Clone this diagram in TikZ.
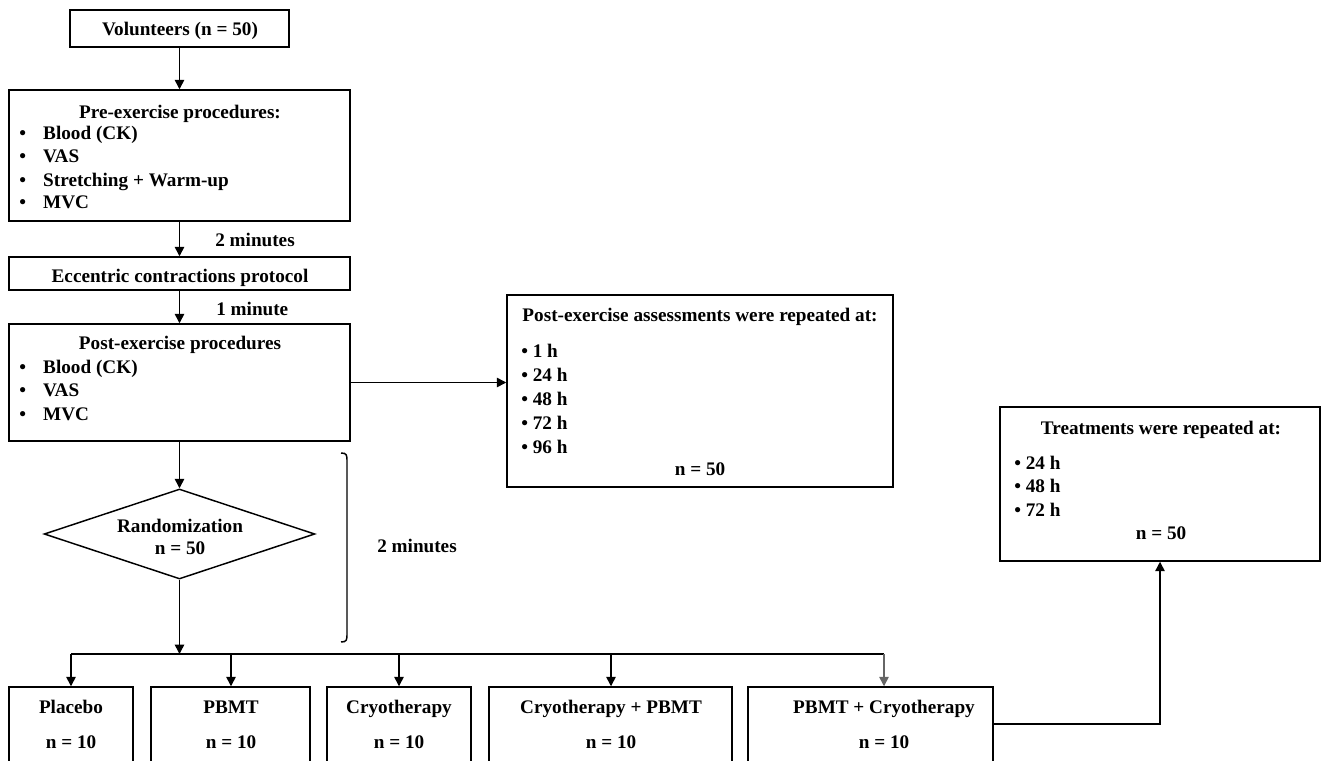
\documentclass[tikz,border=0pt]{standalone}
\usepackage{fontspec}
\setmainfont{Liberation Serif}
\usetikzlibrary{arrows.meta,shapes.geometric,fit}
\begin{document}
\begin{tikzpicture}[x=0.75pt,y=-0.75pt,
  font=\fontsize{14.4}{17}\selectfont\bfseries,
  box/.style={draw, line width=1.1pt, inner sep=0pt, fit={#1}},
  ln/.style={line width=1.1pt},
  arr/.style={line width=1.1pt, -{Triangle[length=7pt,width=7pt]}},
  garr/.style={arr, draw=black!60, -{Triangle[length=7pt,width=7pt,fill=black!60]}},
  lt/.style={inner sep=0pt, anchor=base west},
  ct/.style={inner sep=0pt, anchor=base}]
\useasboundingbox (0,0) rectangle (1323,760);
\clip (0,0) rectangle (1323,760);

% boxes
\node[box={(70,10) (289,47)}] (vol) {};
\node[box={(9,90) (350,221)}] (pre) {};
\node[box={(9,257) (350,290)}] (ecc) {};
\node[box={(9,324) (350,441)}] (post) {};
\node[box={(507,295) (893,487)}] (assess) {};
\node[box={(1000,407) (1320,561)}] (treat) {};
\node[draw, line width=1.1pt, shape=diamond, aspect=3, inner sep=0pt,
      minimum width=203pt, minimum height=67.5pt] (rand) at (179.5,534) {};
\node[box={(9,687) (133,800)}] (placebo) {};
\node[box={(151,687) (310,800)}] (pbmt) {};
\node[box={(327,687) (471,800)}] (cryo) {};
\node[box={(489,687) (732,800)}] (cp) {};
\node[box={(748,687) (993,800)}] (pc) {};

% texts
\node[ct] (tvol) at (180,36) {Volunteers (n = 50)};
\node[ct] (tpre) at (180,118) {Pre-exercise procedures:};
\node[lt] (pre1) at (19,139) {\makebox[18pt][l]{•}Blood (CK)};
\node[lt] (pre2) at (19,162) {\makebox[18pt][l]{•}VAS};
\node[lt] (pre3) at (19,186) {\makebox[18pt][l]{•}Stretching + Warm-up};
\node[lt] (pre4) at (19,208) {\makebox[18pt][l]{•}MVC};
\node[lt] (m2a) at (215,246) {2 minutes};
\node[ct] (tecc) at (180,282) {Eccentric contractions protocol};
\node[lt] (m1) at (216,315) {1 minute};
\node[ct] (tpost) at (180,349) {Post-exercise procedures};
\node[lt] (post1) at (19,373) {\makebox[18pt][l]{•}Blood (CK)};
\node[lt] (post2) at (19,396) {\makebox[18pt][l]{•}VAS};
\node[lt] (post3) at (19,420) {\makebox[18pt][l]{•}MVC};

\node[ct] (tas) at (700,321) {Post-exercise assessments were repeated at:};
\node[lt] (as1) at (521,357) {• 1 h};
\node[lt] (as2) at (521,381) {• 24 h};
\node[lt] (as3) at (521,405) {• 48 h};
\node[lt] (as4) at (521,429) {• 72 h};
\node[lt] (as5) at (521,453) {• 96 h};
\node[ct] (asn) at (700,475) {n = 50};

\node[ct] (ttr) at (1161,434) {Treatments were repeated at:};
\node[lt] (tr1) at (1014,469) {• 24 h};
\node[lt] (tr2) at (1014,492) {• 48 h};
\node[lt] (tr3) at (1014,516) {• 72 h};
\node[ct] (trn) at (1161,539) {n = 50};

\node[ct] (tr1a) at (180,532) {Randomization};
\node[ct] (tr2a) at (180,554) {n = 50};
\node[lt] (m2b) at (377,552) {2 minutes};

\node[ct] (tpl) at (71,713) {Placebo};
\node[ct] (npl) at (71,748) {n = 10};
\node[ct] (tpb) at (231,713) {PBMT};
\node[ct] (npb) at (231,748) {n = 10};
\node[ct] (tcr) at (399,713) {Cryotherapy};
\node[ct] (ncr) at (399,748) {n = 10};
\node[ct] (tcp) at (611,713) {Cryotherapy + PBMT};
\node[ct] (ncp) at (611,748) {n = 10};
\node[ct] (tpc) at (884,713) {PBMT + Cryotherapy};
\node[ct] (npc) at (884,748) {n = 10};

% connectors
\coordinate (split) at (179.5,654);
\coordinate (spl) at (71,654);
\coordinate (spb) at (231,654);
\coordinate (scr) at (399,654);
\coordinate (scp) at (611,654);
\coordinate (spc) at (884,654);
\coordinate (pcout) at (993,724);

\draw[arr] (vol.south) -- (vol.south |- pre.north);
\draw[arr] (pre.south) -- (ecc.north);
\draw[arr] (ecc.south) -- (post.north);
\draw[arr] (post.east) -- (post.east -| assess.west);
\draw[arr] (post.south) -- (rand.north);
\draw[arr] (rand.south) -- (split);
\draw[ln] (spl) -- (spc);
\draw[arr] (spl) -- (spl |- placebo.north);
\draw[arr] (spb) -- (spb |- pbmt.north);
\draw[arr] (scr) -- (scr |- cryo.north);
\draw[arr] (scp) -- (scp |- cp.north);
\draw[garr] (spc) -- (spc |- pc.north);
\draw[arr] (pcout) -| (treat.south);

% bracket
\coordinate (bt) at (341,453);
\coordinate (bb) at (341,642);
\draw[ln] (bt) .. controls (347,453) and (347,455) .. (347,462) -- (347,633) .. controls (347,640) and (347,642) .. (bb);
\end{tikzpicture}
\end{document}
